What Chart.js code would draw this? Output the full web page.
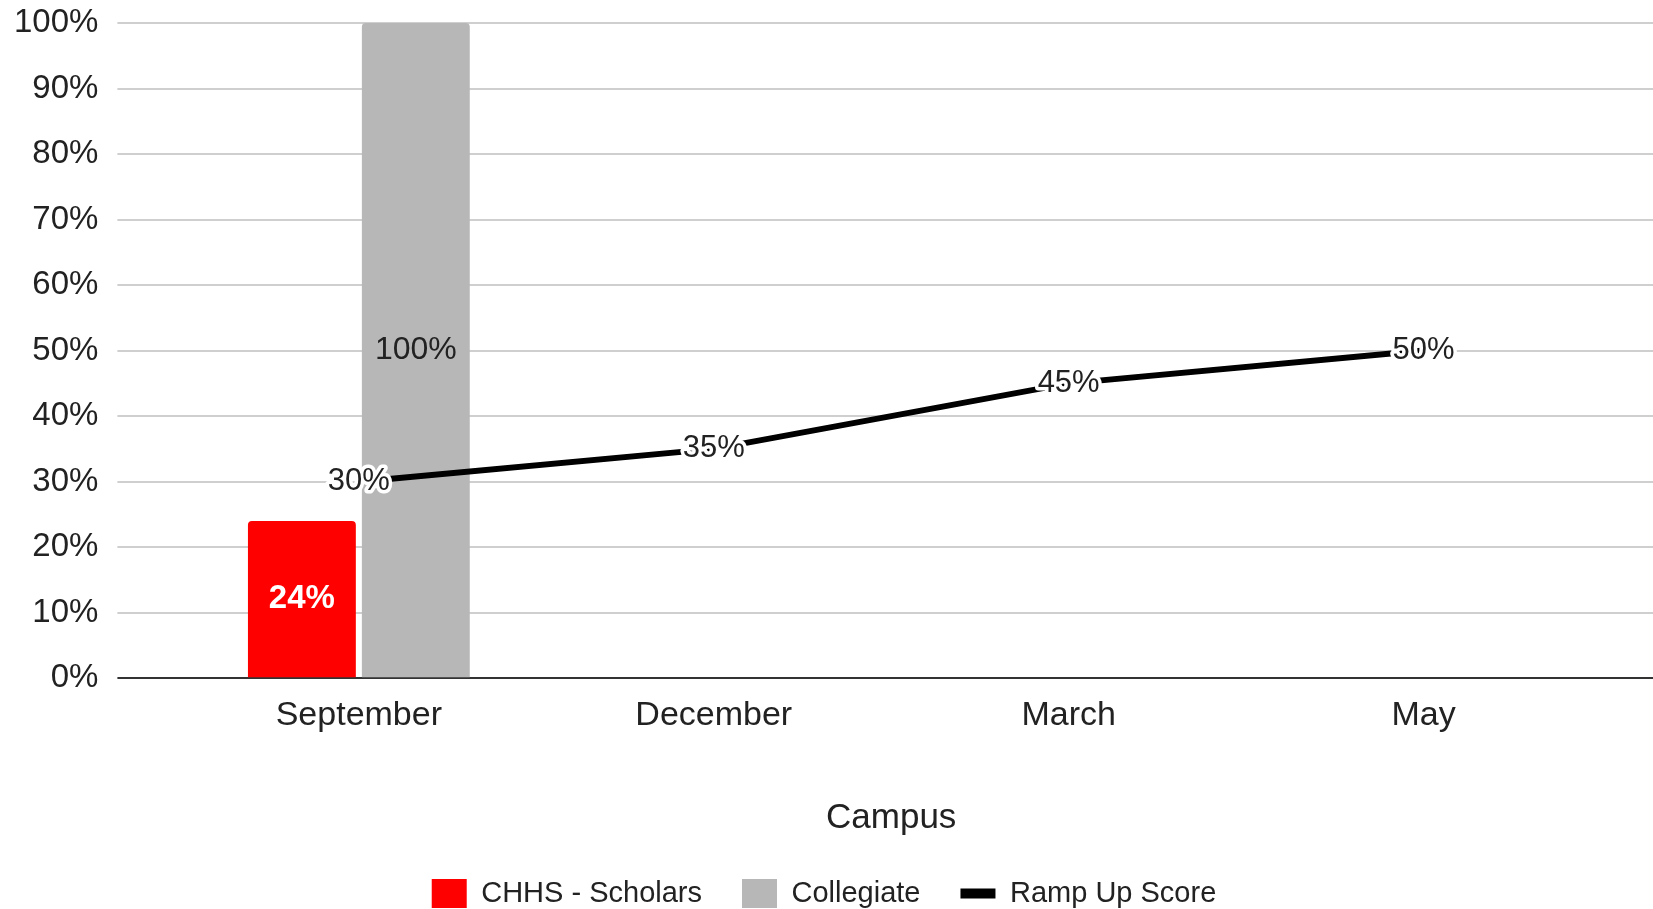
<!DOCTYPE html>
<html>
<head>
<meta charset="utf-8">
<script src="https://cdn.jsdelivr.net/npm/chart.js@4"></script>
<style>
    html, body { margin: 0; padding: 0; background: #fff; overflow: hidden; }
    #wrap { width: 1653px; height: 909px; overflow: hidden; }
</style>
</head>
<body>
<div id="wrap">
    <canvas id="grafico" width="1653" height="918"></canvas>
</div>
<script>
const categorias = ["September", "December", "March", "May"];
const scholars = [24, null, null, null];
const collegiate = [100, null, null, null];
const rampUp = [30, 35, 45, 50];

const FUENTE = "'Liberation Sans', Arial, sans-serif";
const TEXTO = "#222222";

// Etiquetas de valores sobre barras y línea
const etiquetas = {
    id: "etiquetas",
    afterDatasetsDraw(chart) {
        const ctx = chart.ctx;
        ctx.save();
        ctx.textAlign = "center";
        ctx.textBaseline = "middle";
        chart.data.datasets.forEach((ds, i) => {
            const meta = chart.getDatasetMeta(i);
            meta.data.forEach((el, j) => {
                const v = ds.data[j];
                if (v === null || v === undefined) return;
                const txt = v + "%";
                if (ds.type === "line") {
                    ctx.font = "31px " + FUENTE;
                    ctx.lineJoin = "round";
                    ctx.lineWidth = 7;
                    ctx.strokeStyle = "#ffffff";
                    ctx.strokeText(txt, el.x, el.y);
                    ctx.fillStyle = TEXTO;
                    ctx.fillText(txt, el.x, el.y);
                } else {
                    const y = (el.y + el.base) / 2;
                    if (i === 0) {
                        ctx.font = "bold 33px " + FUENTE;
                        ctx.fillStyle = "#ffffff";
                    } else {
                        ctx.font = "32px " + FUENTE;
                        ctx.fillStyle = TEXTO;
                    }
                    ctx.fillText(txt, el.x, y);
                }
            });
        });
        ctx.restore();
    }
};

const colorGrid = c => (c.tick && c.tick.value === 0) ? "#333333" : "#cfcfcf";

new Chart(document.getElementById("grafico"), {
    type: "bar",
    data: {
        labels: categorias,
        datasets: [
            {
                label: "CHHS - Scholars",
                data: scholars,
                backgroundColor: "#ff0000",
                borderWidth: 0,
                borderRadius: 4,
                pointStyle: "rect",
                categoryPercentage: 0.642,
                barPercentage: 0.947,
                order: 1
            },
            {
                label: "Collegiate",
                data: collegiate,
                backgroundColor: "#b7b7b7",
                borderWidth: 0,
                borderRadius: 4,
                pointStyle: "rect",
                categoryPercentage: 0.642,
                barPercentage: 0.947,
                order: 1
            },
            {
                type: "line",
                label: "Ramp Up Score",
                data: rampUp,
                borderColor: "#000000",
                backgroundColor: "#000000",
                borderWidth: 6,
                pointRadius: 0,
                pointStyle: "line",
                tension: 0,
                order: 0
            }
        ]
    },
    options: {
        responsive: false,
        animation: false,
        layout: { padding: { top: 0, left: -5, right: 0, bottom: 0 } },
        scales: {
            x: {
                grid: { display: false, drawTicks: false },
                border: { display: false },
                ticks: { color: TEXTO, font: { family: FUENTE, size: 34 }, padding: 17, maxRotation: 0 },
                title: {
                    display: true,
                    text: "Campus",
                    color: TEXTO,
                    font: { family: FUENTE, size: 35 },
                    padding: { top: 44, bottom: 0 }
                }
            },
            y: {
                min: 0,
                max: 100,
                border: { display: false },
                grid: { color: colorGrid, tickColor: colorGrid, lineWidth: 2, tickLength: 64 },
                ticks: {
                    stepSize: 10,
                    color: TEXTO,
                    padding: 19,
                    font: { family: FUENTE, size: 33 },
                    callback: v => v + "%"
                },
                // el padding de las etiquetas no debe empujar el área hacia abajo
                afterFit: scale => {
                    scale.paddingTop = 23;
                    scale.paddingBottom = 20;
                }
            },
            y2: {
                position: "right",
                min: 0,
                max: 100,
                border: { display: false },
                grid: { drawOnChartArea: false, tickColor: colorGrid, lineWidth: 2, tickLength: 52 },
                ticks: { stepSize: 10, display: false }
            }
        },
        plugins: {
            legend: {
                position: "bottom",
                labels: {
                    usePointStyle: true,
                    pointStyleWidth: 35,
                    boxHeight: 30,
                    padding: 40,
                    color: TEXTO,
                    font: { family: FUENTE, size: 29 },
                    sort: (a, b) => a.datasetIndex - b.datasetIndex,
                    generateLabels: chart => Chart.defaults.plugins.legend.labels.generateLabels(chart).map(it => {
                        if (it.datasetIndex === 2) it.lineWidth = 10;
                        return it;
                    })
                }
            },
            tooltip: { enabled: false }
        }
    },
    plugins: [etiquetas]
});
</script>
</body>
</html>
